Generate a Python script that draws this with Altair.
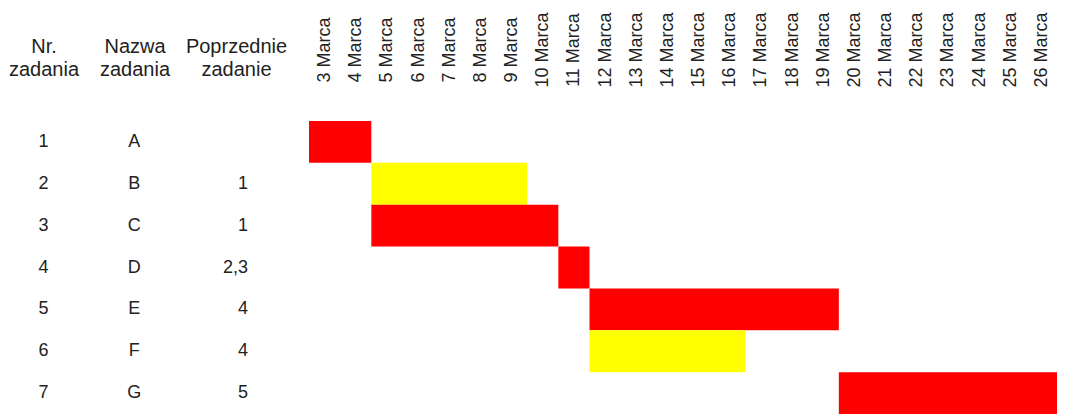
import json
import altair as alt
import pandas as pd

# ---- data ----
task_nr = ["1", "2", "3", "4", "5", "6", "7"]
task_name = ["A", "B", "C", "D", "E", "F", "G"]
prev_task = ["", "1", "1", "2,3", "4", "4", "5"]
start_day = [3, 5, 5, 11, 12, 12, 20]
end_day = [4, 9, 10, 11, 19, 16, 26]
critical = [True, False, True, True, True, False, True]
headers = ["Nr. zadania", "Nazwa zadania", "Poprzednie zadanie"]
day_labels = [
    "3 Marca", "4 Marca", "5 Marca", "6 Marca", "7 Marca", "8 Marca",
    "9 Marca", "10 Marca", "11 Marca", "12 Marca", "13 Marca", "14 Marca",
    "15 Marca", "16 Marca", "17 Marca", "18 Marca", "19 Marca", "20 Marca",
    "21 Marca", "22 Marca", "23 Marca", "24 Marca", "25 Marca", "26 Marca",
]

day_num = [int(s.split(" ")[0]) for s in day_labels]
first_day = day_num[0]
last_day = day_num[-1]

FONT = "Liberation Sans"
TXT = "#222222"

bars = pd.DataFrame({
    "nr": task_nr,
    "start": start_day,
    "end": [e + 1 for e in end_day],
    "kind": ["krytyczne" if c else "niekrytyczne" for c in critical],
})

rows = []
for n, nm, p in zip(task_nr, task_name, prev_task):
    rows.append({"nr": n, "kolumna": headers[0], "tekst": n})
    rows.append({"nr": n, "kolumna": headers[1], "tekst": nm})
    rows.append({"nr": n, "kolumna": headers[2], "tekst": p})
table = pd.DataFrame(rows)

y_enc = alt.Y("nr:O", scale=alt.Scale(domain=task_nr, paddingInner=0, paddingOuter=0), axis=None)

base = alt.Chart(table).encode(
    x=alt.X(
        "kolumna:N",
        scale=alt.Scale(type="point", domain=headers, range=[35.5, 228], padding=0),
        axis=alt.Axis(
            orient="top", title=None, labelAngle=0, labelAlign="center",
            labelBaseline="middle", labelFontSize=20, labelLineHeight=23,
            labelExpr="split(datum.label, ' ')", labelPadding=75,
            ticks=False, tickSize=0, domain=False, grid=False,
            labelOffset={"condition": {"test": "datum.value === 'Nazwa zadania'", "value": -5.25}, "value": 0},
            minExtent=113, labelColor=TXT, labelFont=FONT,
        ),
    ),
    y=y_enc,
    text="tekst:N",
)

col1 = base.transform_filter(alt.datum.kolumna == headers[0]).mark_text(
    align="center", baseline="middle", font=FONT, fontSize=18, color=TXT)
col2 = base.transform_filter(alt.datum.kolumna == headers[1]).mark_text(
    align="center", baseline="middle", font=FONT, fontSize=18, color=TXT, dx=-5.5)
col3 = base.transform_filter(alt.datum.kolumna == headers[2]).mark_text(
    align="right", baseline="middle", font=FONT, fontSize=18, color=TXT, dx=12)

left = alt.layer(col1, col2, col3).properties(width=301, height=293)

label_expr = f"{json.dumps(day_labels)}[floor(datum.value) - {first_day}]"

right = alt.Chart(bars).mark_rect(strokeWidth=0).encode(
    x=alt.X(
        "start:Q",
        scale=alt.Scale(domain=[first_day, last_day + 1], nice=False, zero=False),
        axis=alt.Axis(
            orient="top", title=None, values=[d + 0.5 for d in day_num],
            labelExpr=label_expr, labelAngle=-90, labelAlign="center",
            labelBaseline="middle", labelFontSize=18, labelPadding=71.5,
            labelOverlap=False, labelFlush=False, ticks=False, tickSize=0,
            domain=False, grid=False, minExtent=113, labelColor=TXT, labelFont=FONT,
        ),
    ),
    x2="end:Q",
    y=y_enc,
    color=alt.Color("kind:N", scale=alt.Scale(domain=["krytyczne", "niekrytyczne"],
                                              range=["#ff0000", "#ffff00"]), legend=None),
).properties(width=748, height=293)

chart = alt.hconcat(left, right, spacing=0, padding=0, background="white").configure_view(stroke=None)

chart.save("out.html", embed_options={"renderer": "svg", "actions": False})
